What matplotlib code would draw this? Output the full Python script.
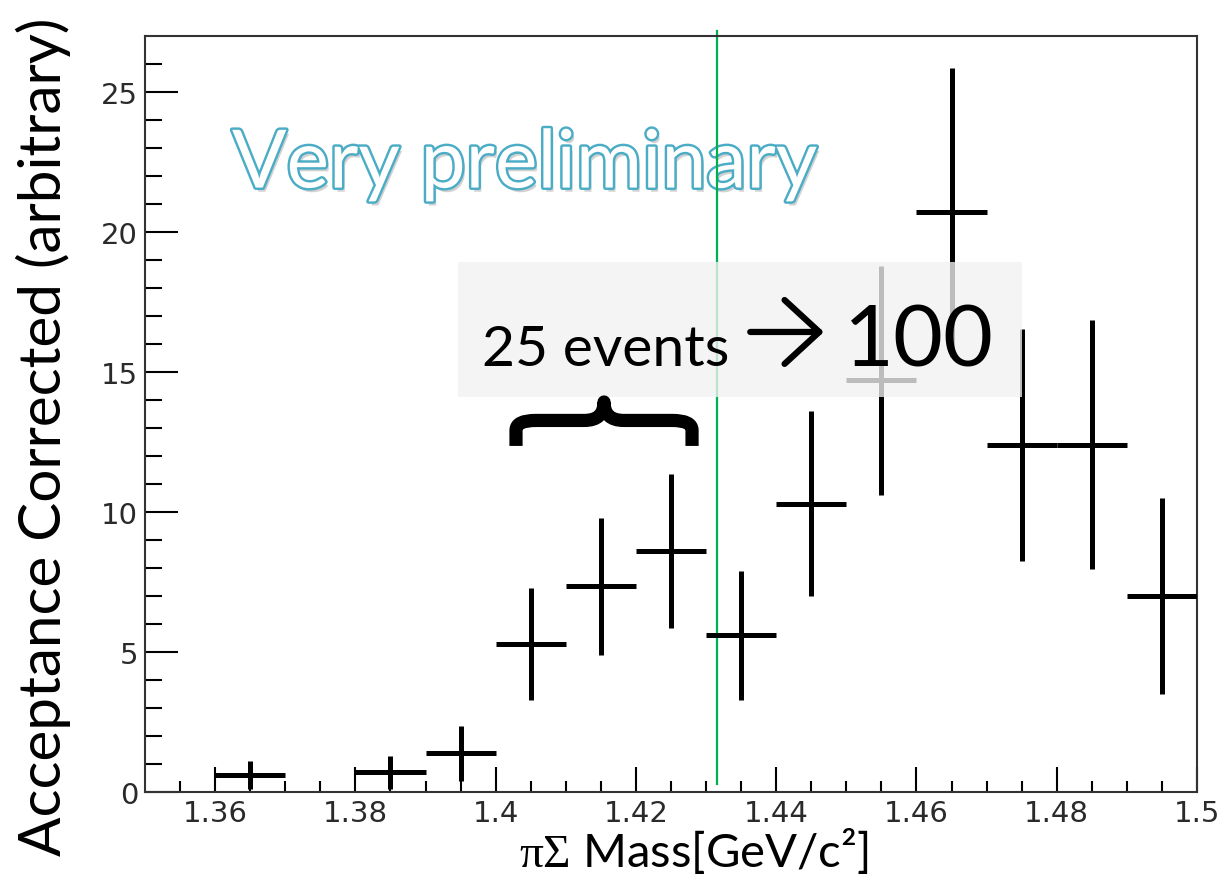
import matplotlib
matplotlib.use('Agg')
import matplotlib.pyplot as plt
import matplotlib.patheffects as pe
from matplotlib.patches import Rectangle, PathPatch
from matplotlib.path import Path
import numpy as np

# bin centres and acceptance corrected yields
mass = [1.365, 1.385, 1.395, 1.405, 1.415, 1.425, 1.435, 1.445,
        1.455, 1.465, 1.475, 1.485, 1.495]
counts = [0.6, 0.7, 1.38, 5.3, 7.35, 8.6, 5.6, 10.3,
          14.7, 20.7, 12.4, 12.4, 7.0]
errors = [0.5, 0.6, 0.98, 2.0, 2.45, 2.75, 2.3, 3.3,
          4.1, 5.15, 4.15, 4.45, 3.5]
bin_half = 0.005
threshold = 1.4316

xticks = [1.36, 1.38, 1.40, 1.42, 1.44, 1.46, 1.48, 1.50]
yticks = [0, 5, 10, 15, 20, 25]

plt.rcParams['font.family'] = ['Lato', 'DejaVu Sans']
plt.rcParams['mathtext.fontset'] = 'custom'
plt.rcParams['mathtext.rm'] = 'Liberation Serif'
plt.rcParams['mathtext.it'] = 'Liberation Serif'


def main():
    fig = plt.figure(figsize=(12.21, 8.78), dpi=100)
    ax = fig.add_axes([145/1221, 1-793/878, 1052/1221, 756/878])

    ax.errorbar(mass, counts, xerr=bin_half, yerr=errors, fmt='none',
                ecolor='black', elinewidth=3.6, capsize=0, zorder=3)

    ax.axvline(threshold, ymin=0.01, ymax=1.007, color='#00b050', lw=1.6,
               zorder=2, clip_on=False)

    ax.set_xlim(1.35, 1.5)
    ax.set_ylim(0, 27)
    ax.set_xticks(xticks)
    ax.set_xticklabels([f'{v:g}' for v in xticks])
    ax.set_xticks(np.arange(1.355, 1.5, 0.005), minor=True)
    ax.set_yticks(yticks)
    ax.set_yticks(np.arange(0, 27, 1), minor=True)
    for lab in ax.get_xticklabels() + ax.get_yticklabels():
        lab.set_family('DejaVu Sans')
        lab.set_fontsize(21)
        lab.set_color('#2a2a2a')
    ax.tick_params(axis='x', which='major', direction='in', length=18, width=1.5, pad=5)
    ax.tick_params(axis='x', which='minor', direction='in', length=8, width=1.5)
    ax.tick_params(axis='y', which='major', direction='in', length=24, width=1.5, pad=5)
    ax.tick_params(axis='y', which='minor', direction='in', length=12, width=1.5)
    for s in ax.spines.values():
        s.set_linewidth(1.5)
        s.set_color('#333333')

    fig.text(43/1221, 1-437/878, 'Acceptance Corrected (arbitrary)', fontsize=42,
             rotation=90, ha='center', va='center')
    fig.text(694/1221, 1-867/878, r'$\pi\Sigma$ Mass[GeV/c²]', fontsize=34,
             ha='center', va='baseline')

    # watermark
    ax.text(1.3624, 22.4, 'Very preliminary', fontsize=58, color='white',
            ha='left', va='center', zorder=1,
            path_effects=[pe.SimplePatchShadow(offset=(2, -3), alpha=0.25),
                          pe.Stroke(linewidth=3.5, foreground='#4bacc6'),
                          pe.Normal()])

    # grey box with annotation
    ax.add_patch(Rectangle((1.3947, 14.1), 0.0804, 4.83, facecolor='#f2f2f2',
                           alpha=0.78, edgecolor='none', zorder=4))
    ax.text(1.3980, 15.25, '25 events', fontsize=41, ha='left', va='baseline', zorder=5)
    ax.annotate('', xy=(1.4468, 16.43), xytext=(1.4363, 16.43), zorder=5,
                arrowprops=dict(arrowstyle='->,head_length=2.5,head_width=2.3',
                                lw=4.5, color='black', shrinkA=0, shrinkB=0,
                                joinstyle='round', capstyle='round'))
    ax.text(1.4497, 15.25, '100', fontsize=62, ha='left', va='baseline', zorder=5)

    # curly brace under the annotation
    xl, xr = 1.4029, 1.4280
    xm = 0.5 * (xl + xr)
    yb, yh, yt = 12.36, 13.27, 13.93
    r = 0.0028
    verts = [(xl, yb), (xl, yh - 0.35), (xl, yh), (xl + r, yh),
             (xm - r, yh), (xm, yh), (xm, yt),
             (xm, yh), (xm + r, yh),
             (xr - r, yh), (xr, yh), (xr, yh - 0.35), (xr, yb)]
    codes = [Path.MOVETO, Path.LINETO, Path.CURVE3, Path.CURVE3,
             Path.LINETO, Path.CURVE3, Path.CURVE3,
             Path.CURVE3, Path.CURVE3,
             Path.LINETO, Path.CURVE3, Path.CURVE3, Path.LINETO]
    ax.add_patch(PathPatch(Path(verts, codes), facecolor='none', edgecolor='black',
                           lw=9.5, zorder=5, capstyle='butt', joinstyle='round'))

    fig.savefig('out.png', dpi=100)


if __name__ == '__main__':
    main()
